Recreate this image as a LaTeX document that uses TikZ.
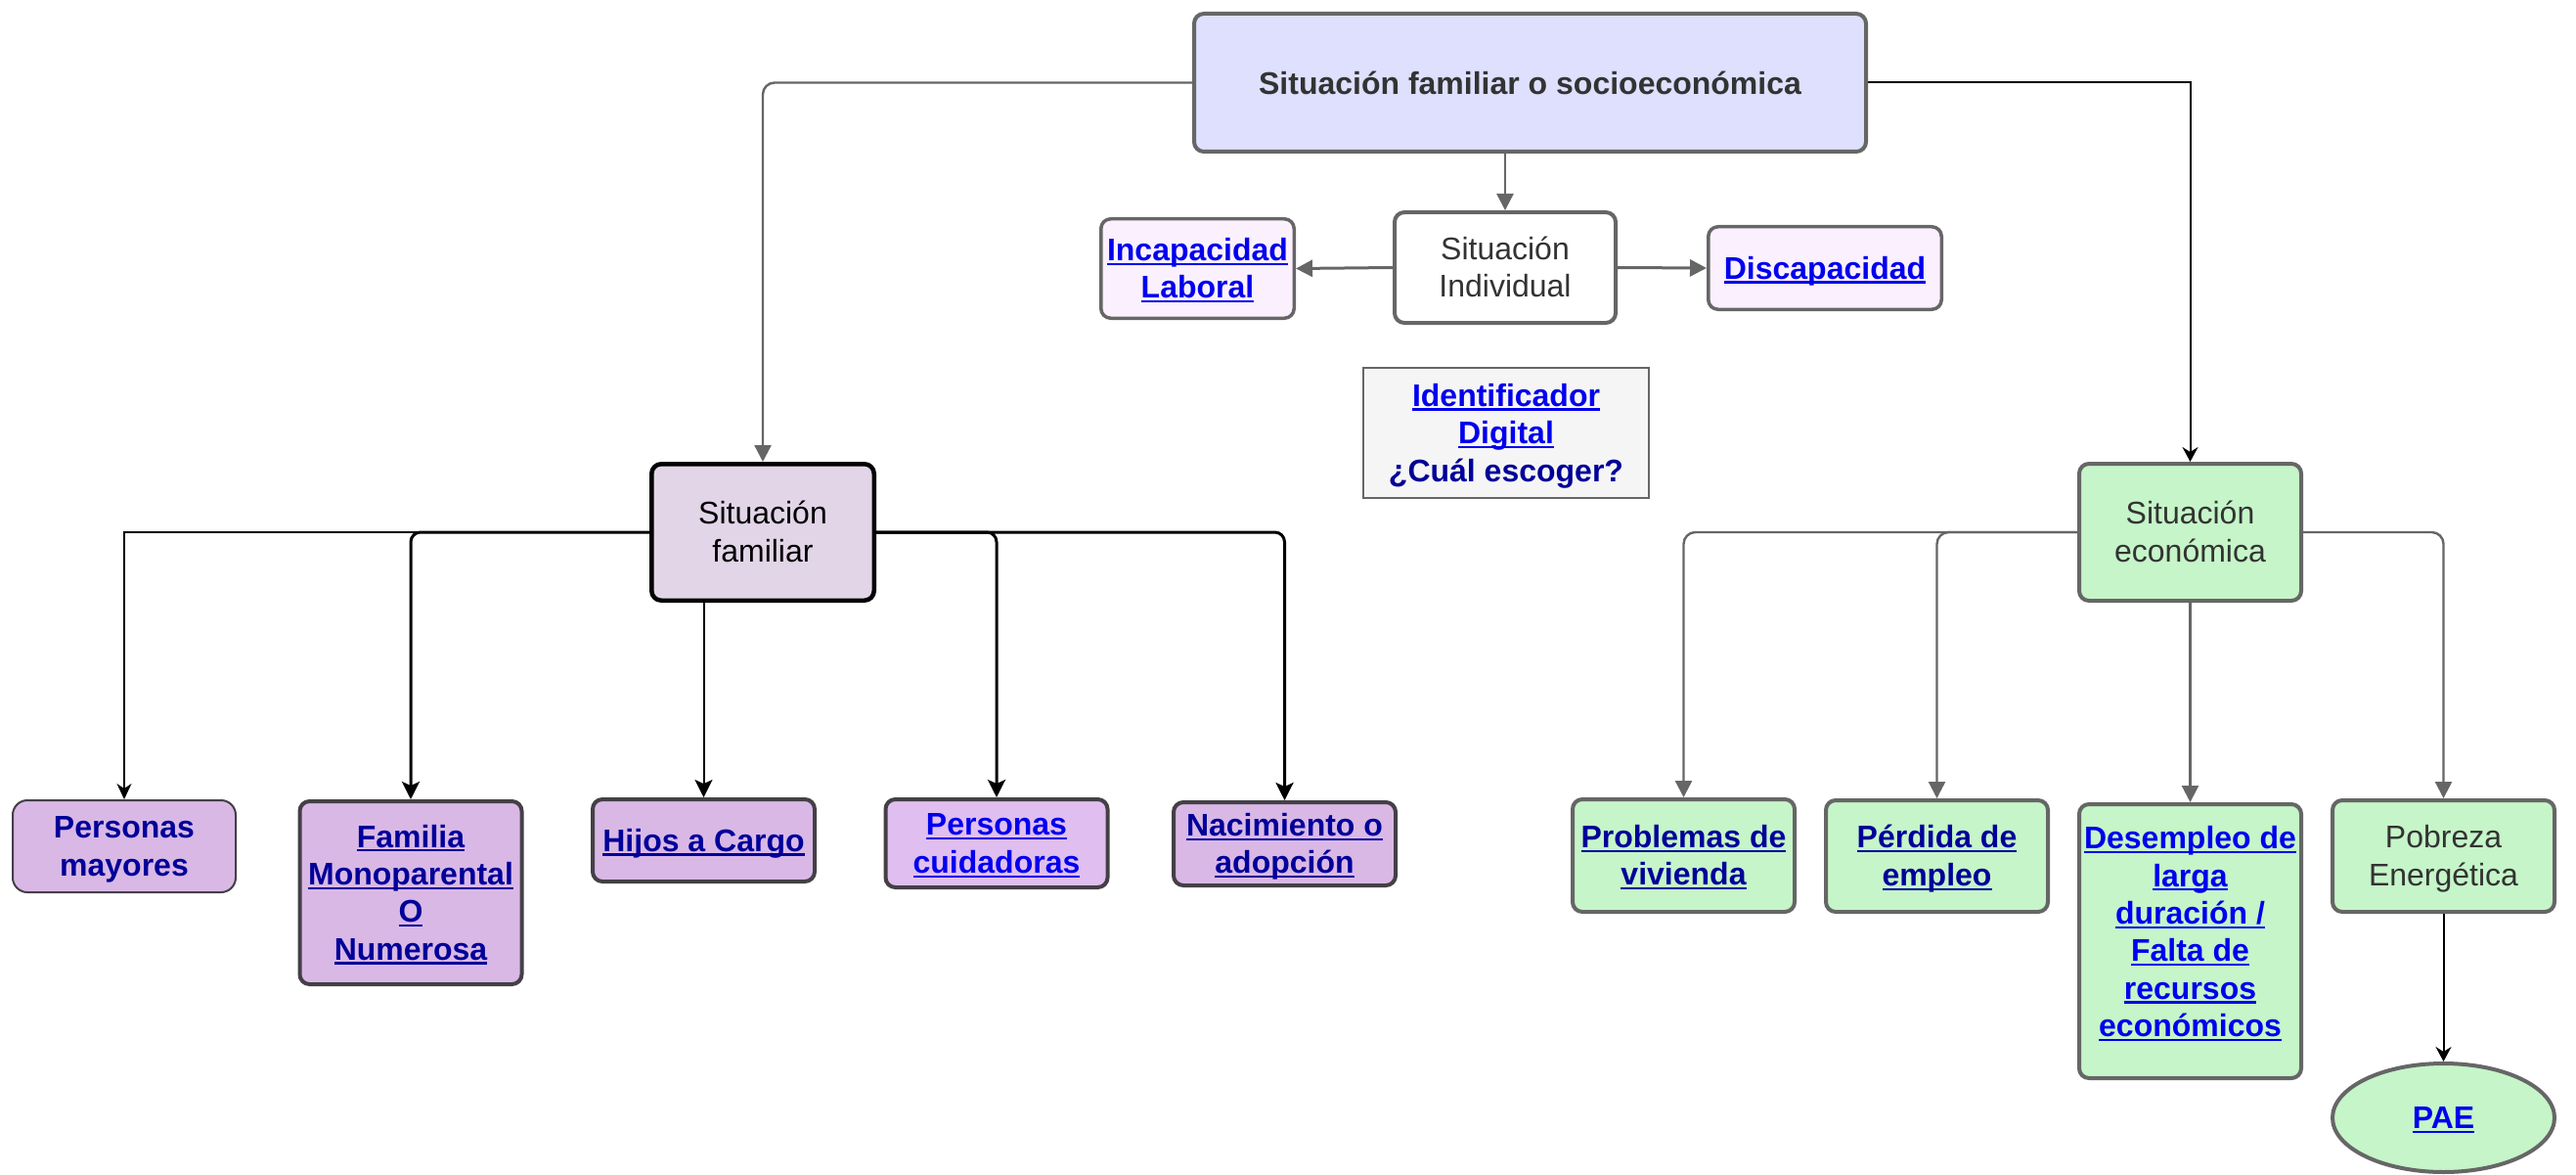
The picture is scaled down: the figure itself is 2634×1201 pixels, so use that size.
\documentclass[tikz,border=0pt]{standalone}
\usepackage{fontspec}
\setmainfont{Liberation Sans}
\usetikzlibrary{arrows.meta,shapes.geometric,calc}
\definecolor{navy}{HTML}{000099}
\definecolor{lnk}{HTML}{0000EE}
\definecolor{ttl}{HTML}{333333}
\definecolor{gln}{HTML}{666666}
\definecolor{mainfill}{HTML}{DEE0FD}
\definecolor{pinkfill}{HTML}{FBF0FD}
\definecolor{idfill}{HTML}{F5F5F5}
\definecolor{famfill}{HTML}{E1D5E7}
\definecolor{purfill}{HTML}{D9B8E6}
\definecolor{cuifill}{HTML}{E0BEEF}
\definecolor{purline}{HTML}{444046}
\definecolor{grnfill}{HTML}{C5F5C8}
\newcommand\ulk[1]{\setbox0\hbox{#1}\rlap{\rule[-4.4pt]{\wd0}{2.2pt}}\box0}
\newcommand\lst{\rule[-8.1pt]{0pt}{38.4pt}}
\newcommand\ulline[1]{\lst\ulk{#1}}
\newcommand\plline[1]{\lst #1}
\tikzset{
  bx/.style={draw, rounded corners=10pt, align=center, inner sep=0pt, line width=4pt,
    font=\fontsize{32}{38.4}\selectfont},
  lbx/.style={bx, font=\fontsize{32}{38.4}\selectfont\bfseries},
  grn/.style={lbx, fill=grnfill, draw=gln, minimum width=227pt, minimum height=114pt},
  pur/.style={lbx, fill=purfill, draw=purline, minimum width=227pt},
  gcon/.style={gln, line width=2.4pt, rounded corners=12pt, -{Triangle[length=17pt,width=17pt]}},
  bcon/.style={black, line width=2pt, -{Stealth[length=15pt,width=16pt,inset=5pt]}},
  fcon/.style={black, line width=3pt, rounded corners=10pt, -{Stealth[length=18pt,width=18pt,inset=4pt]}}
}
\begin{document}
\begin{tikzpicture}[x=1pt,y=-1pt]
\useasboundingbox (0,0) rectangle (2634,1201);
% top level
\node[bx, fill=mainfill, draw=gln, text=ttl, minimum width=687pt, minimum height=141pt,
  font=\fontsize{32}{38.4}\selectfont\bfseries] (main) at (1564.5,84.5) {Situación familiar o socioeconómica};
\node[bx, fill=white, draw=gln, text=ttl, minimum width=226pt, minimum height=113pt] (indiv) at (1539,273.5)
  {\plline{Situación}\\\plline{Individual}};
\node[lbx, fill=pinkfill, draw=gln, line width=3.5pt, text=lnk, minimum width=197.5pt, minimum height=101.5pt] (incap) at (1224.5,274.5)
  {\ulline{Incapacidad}\\\ulline{Laboral}};
\node[lbx, fill=pinkfill, draw=gln, line width=3.5pt, text=lnk, minimum width=238.5pt, minimum height=84.5pt] (discap) at (1866,274)
  {\ulline{Discapacidad}};
\node[lbx, rounded corners=0pt, fill=idfill, draw=gln, line width=2pt, minimum width=292pt, minimum height=133pt] (ident) at (1540,442.5)
  {\textcolor{lnk}{\ulline{Identificador}}\\\textcolor{lnk}{\ulline{Digital}}\\\textcolor{navy}{\plline{¿Cuál escoger?}}};
% second level
\node[bx, fill=famfill, draw=black, line width=4.5pt, text=black, minimum width=227.5pt, minimum height=139.5pt] (fam) at (780,544)
  {\plline{Situación}\\\plline{familiar}};
\node[bx, fill=grnfill, draw=gln, text=ttl, minimum width=227pt, minimum height=140pt] (eco) at (2239.5,544)
  {\plline{Situación}\\\plline{económica}};
% familia children
\node[pur, line width=2pt, rounded corners=15pt, minimum width=228pt, minimum height=94pt, text=navy] (pm) at (127,865)
  {\plline{Personas}\\\plline{mayores}};
\node[pur, minimum height=187pt, text=navy] (fmn) at (420,912.5)
  {\ulline{Familia}\\\ulline{Monoparental}\\\ulline{O}\\\ulline{Numerosa}};
\node[pur, minimum height=84pt, text=navy] (hij) at (719.5,859)
  {\ulline{Hijos a Cargo}};
\node[pur, fill=cuifill, minimum height=90pt, text=lnk] (cui) at (1019,862)
  {\ulline{Personas}\\\ulline{cuidadoras}};
\node[pur, minimum height=85pt, text=navy] (nac) at (1313.5,862.5)
  {\ulline{Nacimiento o}\\\ulline{adopción}};
% economica children
\node[grn, minimum height=115pt, text=navy] (prob) at (1721.5,874.5)
  {\ulline{Problemas de}\\\ulline{vivienda}};
\node[grn, text=navy] (perd) at (1980.5,875)
  {\ulline{Pérdida de}\\\ulline{empleo}};
\node[grn, minimum height=280pt] (des) at (2239.5,962) {};
\node[font=\fontsize{32}{38.4}\selectfont\bfseries, text=lnk, align=center, inner sep=0pt] (destext) at (2239.5,952.5)
  {\ulline{Desempleo de}\\\ulline{larga}\\\ulline{duración /}\\\ulline{Falta de}\\\ulline{recursos}\\\ulline{económicos}};
\node[grn, font=\fontsize{32}{38.4}\selectfont, text=ttl] (pob) at (2498.5,875)
  {\plline{Pobreza}\\\plline{Energética}};
\node[ellipse, draw=gln, line width=4pt, fill=grnfill, inner sep=0pt, minimum width=227pt, minimum height=111pt,
  font=\fontsize{32}{38.4}\selectfont\bfseries, text=lnk] (pae) at (2498.5,1142.5) {\ulline{PAE}};
% connectors top
\draw[gcon] (main.west) -| (fam.north);
\draw[bcon] (main.east) -| (eco.north);
\draw[gcon, line width=2.4pt] (main.south -| indiv.north) -- (indiv.north);
\draw[gcon, line width=3pt] (indiv.west) -- (incap.east);
\draw[gcon, line width=3pt] (indiv.east) -- (discap.west);
% familia connectors
\draw[black, line width=1.5pt, -{Stealth[length=16pt,width=15pt,inset=5pt]}] (fam.west) -| (pm.north);
\draw[fcon] (fam.west) -| (fmn.north);
\draw[fcon, line width=2pt, rounded corners=0pt] (fam.south -| hij.north) -- (hij.north);
\draw[fcon] (fam.east) -| (cui.north);
\draw[fcon] (fam.east) -| (nac.north);
% economica connectors
\draw[gcon] (eco.west) -| (prob.north);
\draw[gcon] (eco.west) -| (perd.north);
\draw[gcon] (eco.south) -- (des.north);
\draw[gcon] (eco.east) -| (pob.north);
\draw[bcon] (pob.south) -- (pae.north);
\end{tikzpicture}
\end{document}
